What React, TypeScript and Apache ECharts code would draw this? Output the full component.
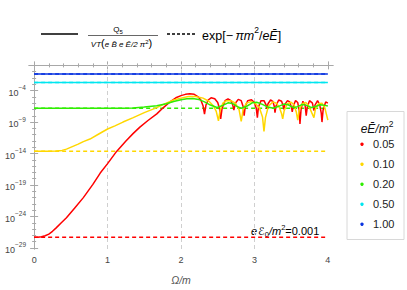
import React, { useEffect, useRef } from "react";
import * as echarts from "echarts";

// Ω/m tick labels and log10 tick labels
const omegaMajor = [0, 1, 2, 3, 4];
const omegaMinor = [0.2, 0.4, 0.6, 0.8, 1.2, 1.4, 1.6, 1.8, 2.2, 2.4, 2.6, 2.8, 3.2, 3.4, 3.6, 3.8];
const logMajor = [-29, -24, -19, -14, -9, -4];
const logMinor = [-28, -27, -26, -25, -23, -22, -21, -20, -18, -17, -16, -15, -13, -12, -11, -10, -8, -7, -6, -5, -3, -2, -1, 0];
const gridOmega = [1, 2, 3];

// legend categories eĒ/m² and exp[-π m²/eĒ] levels (log10)
const fieldLabels = ["0.05", "0.10", "0.20", "0.50", "1.00"];
const thresholdLog10 = [-27.29, -13.64, -6.82, -2.73, -1.36];
const colors = ["#ff0000", "#ffd700", "#2fee00", "#00e6f0", "#0a34e0"];

// solid curves: [Ω/m, log10 value]
const redCurve: [number, number][] = [
  [0, -27.3], [0.05, -27.28], [0.1, -27.2], [0.15, -27.05], [0.2, -26.8], [0.25, -26.35], [0.3, -25.8],
  [0.37, -25.0], [0.44, -24.2], [0.55, -22.7], [0.67, -21.0], [0.8, -18.9], [0.9, -17.1], [1.0, -15.6],
  [1.12, -13.7], [1.25, -12.0], [1.35, -10.8], [1.44, -9.8], [1.55, -8.75], [1.67, -7.7], [1.76, -6.7],
  [1.85, -5.8], [1.93, -5.15], [2.0, -4.8], [2.06, -4.6], [2.12, -4.5], [2.18, -4.6], [2.23, -4.95],
  [2.27, -5.5], [2.3, -6.4], [2.32, -7.75], [2.34, -6.3], [2.37, -5.5], [2.41, -5.15], [2.46, -5.3],
  [2.5, -5.9], [2.525, -6.9], [2.54, -8.5], [2.56, -6.8], [2.6, -5.6], [2.64, -5.3], [2.68, -5.6],
  [2.705, -6.3], [2.72, -7.1], [2.74, -6.0], [2.78, -5.4], [2.82, -5.6], [2.845, -6.5], [2.86, -8.0],
  [2.875, -6.5], [2.91, -5.6], [2.96, -5.45], [3.0, -5.9], [3.025, -6.8], [3.04, -8.3], [3.055, -6.6],
  [3.09, -5.6], [3.13, -5.6], [3.16, -6.3], [3.17, -6.9], [3.185, -6.1], [3.22, -5.5], [3.25, -5.7],
  [3.27, -6.5], [3.28, -7.5], [3.295, -6.4], [3.33, -5.5], [3.37, -5.7], [3.39, -6.4], [3.4, -7.0],
  [3.415, -6.2], [3.45, -5.6], [3.48, -5.8], [3.505, -6.7], [3.515, -7.4], [3.53, -6.4], [3.56, -5.6],
  [3.59, -5.9], [3.61, -7.2], [3.62, -9.3], [3.635, -7.0], [3.66, -5.7], [3.69, -6.3], [3.705, -8.0],
  [3.72, -6.6], [3.75, -5.6], [3.79, -6.0], [3.81, -7.2], [3.825, -6.3], [3.86, -5.6], [3.89, -6.3],
  [3.91, -7.6], [3.92, -9.0], [3.935, -7.1], [3.97, -5.8], [4.0, -6.0],
];
const yellowCurve: [number, number][] = [
  [0, -13.64], [0.1, -13.64], [0.2, -13.63], [0.3, -13.6], [0.38, -13.5], [0.44, -13.3], [0.52, -12.9],
  [0.6, -12.5], [0.67, -12.1], [0.76, -11.7], [0.88, -10.9], [1.0, -10.1], [1.1, -9.6], [1.21, -9.0],
  [1.35, -8.3], [1.5, -7.5], [1.67, -6.7], [1.8, -6.0], [1.9, -5.5], [2.0, -5.2], [2.1, -4.95],
  [2.2, -4.95], [2.3, -5.2], [2.38, -5.7], [2.44, -6.4], [2.48, -7.3], [2.51, -8.8], [2.535, -7.0],
  [2.57, -6.0], [2.62, -5.6], [2.68, -5.6], [2.74, -6.0], [2.79, -7.0], [2.82, -8.9], [2.845, -7.1],
  [2.89, -6.0], [2.95, -5.75], [3.01, -6.0], [3.07, -6.8], [3.11, -8.2], [3.13, -10.5], [3.15, -8.3],
  [3.19, -6.5], [3.25, -5.8], [3.3, -6.0], [3.34, -6.7], [3.37, -7.7], [3.385, -8.5], [3.405, -7.2],
  [3.45, -6.1], [3.5, -5.85], [3.54, -6.3], [3.57, -7.4], [3.59, -8.7], [3.61, -7.1], [3.65, -6.1],
  [3.7, -5.9], [3.74, -6.4], [3.78, -7.5], [3.81, -8.3], [3.83, -7.0], [3.87, -6.1], [3.92, -6.0],
  [3.96, -6.8], [4.0, -8.7],
];
const greenCurve: [number, number][] = [
  [0, -6.82], [0.5, -6.82], [1.0, -6.82], [1.2, -6.81], [1.35, -6.75], [1.5, -6.62], [1.67, -6.42],
  [1.8, -6.1], [1.9, -5.75], [2.0, -5.45], [2.08, -5.3], [2.16, -5.25], [2.24, -5.4], [2.32, -5.8],
  [2.4, -6.3], [2.49, -6.7], [2.57, -6.35], [2.64, -5.95], [2.7, -6.05], [2.76, -6.5], [2.82, -6.8],
  [2.9, -6.45], [2.97, -5.95], [3.03, -5.85], [3.1, -6.15], [3.18, -6.6], [3.26, -6.8], [3.33, -6.5],
  [3.4, -6.15], [3.46, -6.25], [3.53, -6.7], [3.59, -6.55], [3.65, -6.2], [3.71, -6.35], [3.78, -6.7],
  [3.84, -6.5], [3.9, -6.25], [3.96, -6.35], [4.0, -6.45],
];
const cyanCurve: [number, number][] = [[0, -2.73], [4, -2.73]];
const blueCurve: [number, number][] = [[0, -1.36], [4, -1.36]];

const FONT = "'Liberation Sans', Arial, sans-serif";
const FRAME = "#a8a8a8";
const LABEL = "#444";

export default function App() {
  const ref = useRef<HTMLDivElement>(null);
  useEffect(() => {
    if (!ref.current) return;
    const chart = echarts.init(ref.current, undefined, { renderer: "svg" });
    const xBase = { type: "value" as const, min: -0.07, max: 4.07, gridIndex: 0 };
    const yBase = { type: "value" as const, min: -29.16, max: 0.22, gridIndex: 0 };
    const hidden = { show: false };
    const curves = [redCurve, yellowCurve, greenCurve, cyanCurve, blueCurve];

    const series: any[] = [];
    thresholdLog10.forEach((lv, i) => {
      series.push({
        type: "line",
        data: [[0, lv], [4, lv]],
        showSymbol: false,
        silent: true,
        lineStyle: { color: colors[i], width: 1.5, type: [4, 3] },
        z: 2,
        markLine: i === 0 ? {
          silent: true,
          symbol: "none",
          label: { show: false },
          lineStyle: { color: "#cfcfcf", type: [4, 3], width: 1 },
          data: gridOmega.map((g) => ({ xAxis: g })),
          z: 1,
        } : undefined,
      });
    });
    curves.forEach((c, i) => {
      series.push({
        type: "line",
        data: c,
        showSymbol: false,
        silent: true,
        lineStyle: { color: colors[i], width: 1.5 },
        z: 3 + i,
      });
    });

    const supLabel = (v: number) => `{b|10}{s|${v < 0 ? "\u2212" + -v : v}}`;

    chart.setOption({
      animation: false,
      textStyle: { fontFamily: FONT },
      grid: { left: 29, right: 74, top: 64, bottom: 38, containLabel: false },
      xAxis: [
        {
          ...xBase, position: "bottom",
          axisLine: { show: true, lineStyle: { color: FRAME, width: 1 } },
          axisTick: { show: true, inside: true, length: 4, customValues: omegaMajor, lineStyle: { color: FRAME } },
          axisLabel: { show: true, customValues: omegaMajor, color: LABEL, fontSize: 9, margin: 6, fontFamily: FONT },
          splitLine: hidden,
          name: "Ω/m", nameLocation: "middle", nameGap: 25,
          nameTextStyle: { color: "#555", fontSize: 10.5, fontStyle: "italic", fontFamily: FONT },
        },
        {
          ...xBase, position: "top",
          axisLine: { show: true, lineStyle: { color: FRAME, width: 1 } },
          axisTick: { show: true, inside: true, length: 4, customValues: omegaMajor, lineStyle: { color: FRAME } },
          axisLabel: hidden, splitLine: hidden,
        },
        {
          ...xBase, position: "bottom",
          axisLine: hidden,
          axisTick: { show: true, inside: true, length: 2, customValues: omegaMinor, lineStyle: { color: FRAME } },
          axisLabel: hidden, splitLine: hidden,
        },
        {
          ...xBase, position: "top",
          axisLine: hidden,
          axisTick: { show: true, inside: true, length: 2, customValues: omegaMinor, lineStyle: { color: FRAME } },
          axisLabel: hidden, splitLine: hidden,
        },
      ],
      yAxis: [
        {
          ...yBase, position: "left",
          axisLine: { show: true, lineStyle: { color: FRAME, width: 1 } },
          axisTick: { show: true, inside: true, length: 4, customValues: logMajor, lineStyle: { color: FRAME } },
          axisLabel: {
            show: true, customValues: logMajor, margin: 3, formatter: supLabel,
            rich: {
              b: { fontSize: 9, color: LABEL, fontFamily: FONT, verticalAlign: "bottom", padding: [4, 0, 0, 0] },
              s: { fontSize: 6.5, color: LABEL, fontFamily: FONT, verticalAlign: "top" },
            },
          },
          splitLine: hidden,
        },
        {
          ...yBase, position: "right",
          axisLine: { show: true, lineStyle: { color: FRAME, width: 1 } },
          axisTick: { show: true, inside: true, length: 4, customValues: logMajor, lineStyle: { color: FRAME } },
          axisLabel: hidden, splitLine: hidden,
        },
        {
          ...yBase, position: "left",
          axisLine: hidden,
          axisTick: { show: true, inside: true, length: 2, customValues: logMinor, lineStyle: { color: FRAME } },
          axisLabel: hidden, splitLine: hidden,
        },
        {
          ...yBase, position: "right",
          axisLine: hidden,
          axisTick: { show: true, inside: true, length: 2, customValues: logMinor, lineStyle: { color: FRAME } },
          axisLabel: hidden, splitLine: hidden,
        },
      ],
      series,
      graphic: [
        // top legend
        { type: "line", shape: { x1: 41, y1: 34, x2: 78, y2: 34 }, style: { stroke: "#000", lineWidth: 1.5 } },
        {
          type: "text", x: 118, y: 30,
          style: {
            text: "{q|Q}{u|5}", align: "center", verticalAlign: "middle",
            rich: {
              q: { fontSize: 8, fontFamily: FONT, fill: "#000", verticalAlign: "top", padding: [0, 0, 2, 0] },
              u: { fontSize: 6, fontFamily: FONT, fill: "#000", verticalAlign: "bottom" },
            },
          },
        },
        { type: "line", shape: { x1: 88, y1: 35.5, x2: 158, y2: 35.5 }, style: { stroke: "#000", lineWidth: 0.6 } },
        {
          type: "text", x: 121.5, y: 43,
          style: {
            text: "{i|VT}{b|(}{i|e B\u0304 e Ē/2 π}{p|2}{b|)}", align: "center", verticalAlign: "middle",
            rich: {
              i: { fontSize: 8, fontStyle: "italic", fontFamily: FONT, fill: "#000", verticalAlign: "bottom", padding: [3, 0, 0, 0] },
              b: { fontSize: 11, fontFamily: FONT, fill: "#000", verticalAlign: "bottom", padding: [0, 0, 0, 0] },
              p: { fontSize: 6, fontFamily: FONT, fill: "#000", verticalAlign: "top", padding: [1, 0, 0, 0] },
            },
          },
        },
        { type: "line", shape: { x1: 167, y1: 34, x2: 197, y2: 34 }, style: { stroke: "#000", lineWidth: 1.5, lineDash: [3, 2] } },
        {
          type: "text", x: 202, y: 34,
          style: {
            text: "{n|exp[\u2212}{i|\u2009πm}{p|2}{n|/}{i|eĒ}{n|]}", align: "left", verticalAlign: "middle",
            rich: {
              n: { fontSize: 12.5, fontFamily: FONT, fill: "#000", verticalAlign: "bottom", padding: [4, 0, 0, 0] },
              i: { fontSize: 12.5, fontFamily: FONT, fill: "#000", fontStyle: "italic", verticalAlign: "bottom", padding: [4, 0, 0, 0] },
              p: { fontSize: 8.5, fontFamily: FONT, fill: "#000", verticalAlign: "top" },
            },
          },
        },
        // annotation
        {
          type: "text", x: 251, y: 231,
          style: {
            text: "{i|e}{e|ℰ}{d|0}{i|/m}{p|2}{n|=0.001}", align: "left", verticalAlign: "middle",
            rich: {
              n: { fontSize: 11, fontFamily: FONT, fill: "#000", verticalAlign: "middle", padding: [2, 0, 2, 0] },
              i: { fontSize: 11, fontFamily: FONT, fill: "#000", fontStyle: "italic", verticalAlign: "middle", padding: [2, 0, 2, 0] },
              e: { fontSize: 11, fontFamily: "'DejaVu Sans', sans-serif", fill: "#000", fontStyle: "italic", verticalAlign: "middle", padding: [2, 0, 2, 1] },
              p: { fontSize: 7.5, fontFamily: FONT, fill: "#000", verticalAlign: "top" },
              d: { fontSize: 7.5, fontFamily: FONT, fill: "#000", verticalAlign: "bottom" },
            },
          },
        },
        // right legend box
        { type: "rect", shape: { x: 347, y: 111.5, width: 57, height: 128 }, style: { fill: "#fff", stroke: "#d8d8d8", lineWidth: 1 } },
        {
          type: "text", x: 377, y: 127,
          style: {
            text: "{i|eĒ/m}{p|2}", align: "center", verticalAlign: "middle",
            rich: {
              i: { fontSize: 12, fontFamily: FONT, fill: "#111", fontStyle: "italic", verticalAlign: "bottom", padding: [4, 0, 0, 0] },
              p: { fontSize: 8.5, fontFamily: FONT, fill: "#111", verticalAlign: "top" },
            },
          },
        },
        ...fieldLabels.flatMap((lab, i) => [
          { type: "circle", shape: { cx: 362, cy: 144.3 + 20 * i, r: 1.7 }, style: { fill: colors[i] } },
          {
            type: "text", x: 373, y: 144.3 + 20 * i,
            style: { text: lab, align: "left", verticalAlign: "middle", fontSize: 11, fontFamily: FONT, fill: "#222" },
          },
        ]),
      ],
    });
    return () => chart.dispose();
  }, []);
  return <div ref={ref} style={{ position: "fixed", left: 0, top: 0, width: 407, height: 290, background: "#fff" }} />;
}
